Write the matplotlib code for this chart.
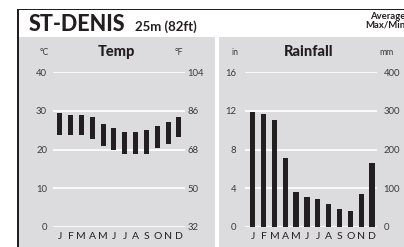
import matplotlib.pyplot as plt
from matplotlib.patches import Rectangle

plt.rcParams['font.family'] = ['Lato', 'DejaVu Sans']

months = ['J', 'F', 'M', 'A', 'M', 'J', 'J', 'A', 'S', 'O', 'N', 'D']
temp_max = [29.4, 28.9, 28.9, 28.4, 26.6, 25.5, 24.5, 24.5, 25.0, 26.0, 27.1, 28.4]
temp_min = [23.8, 23.8, 23.8, 22.8, 20.9, 19.8, 18.8, 18.8, 18.8, 20.3, 21.4, 23.2]
rain_mm = [298, 293, 277, 179, 91, 76, 71, 58, 45, 40, 86, 164]
temp_ticks_c = [0, 10, 20, 30, 40]
temp_ticks_f = [32, 50, 68, 86, 104]
rain_ticks_in = [0, 4, 8, 12, 16]
rain_ticks_mm = [0, 100, 200, 300, 400]

W, H = 404, 247
GREY = '#dcdcde'
INK = '#231f20'
LBL = '#3a3a3a'

fig = plt.figure(figsize=(W / 100, H / 100), dpi=100)

# background / frame in pixel coords
bg = fig.add_axes([0, 0, 1, 1])
bg.set_xlim(0, W)
bg.set_ylim(H, 0)
bg.axis('off')
bg.add_patch(Rectangle((17.3, 9.3), W, H, color=INK, lw=0))
bg.add_patch(Rectangle((19, 10.3), W, H, color='white', lw=0))
bg.add_patch(Rectangle((19, 37.3), 196, H, color=GREY, lw=0))
bg.add_patch(Rectangle((219, 37.3), W, H, color=GREY, lw=0))

bg.text(29, 31.3, 'ST-DENIS', fontsize=15.5, fontweight='black', color=INK, va='baseline')
bg.text(135, 31.3, '25m (82ft)', fontsize=9.5, fontweight='bold', color=INK, va='baseline')
bg.text(405, 16.5, 'Average', fontsize=6.8, fontweight='bold', color=INK, ha='right', va='center')
bg.text(405, 25.5, 'Max/Min', fontsize=6.8, fontweight='bold', color=INK, ha='right', va='center')

bg.text(116, 51.5, 'Temp', fontsize=10.5, fontweight='black', color=INK, ha='center', va='center')
bg.text(44, 52, '°C', fontsize=6.2, color=LBL, ha='center', va='center')
bg.text(178.5, 52, '°F', fontsize=6.2, color=LBL, ha='center', va='center')
bg.text(309, 51.5, 'Rainfall', fontsize=10.5, fontweight='black', color=INK, ha='center', va='center')
bg.text(235, 52, 'in', fontsize=6.2, color=LBL, ha='center', va='center')
bg.text(387, 52, 'mm', fontsize=6.2, color=LBL, ha='center', va='center')


def panel(x0, x1, xlim):
    y_top, y_bot = 72.3, 226.8
    ax = fig.add_axes([x0 / W, (H - y_bot) / H, (x1 - x0) / W, (y_bot - y_top) / H])
    ax.set_facecolor('none')
    ax.set_xlim(*xlim)
    for s in ax.spines.values():
        s.set_visible(False)
    ax.set_xticks(range(12))
    ax.set_xticklabels(months, fontsize=7.5, color=INK)
    ax.tick_params(axis='x', length=0, pad=4)
    return ax


x = list(range(12))

# Temp panel
ax1 = panel(53.3, 185.5, (-0.58, 11.6))
ax1.set_ylim(0, 40)
ax1.set_yticks(temp_ticks_c)
ax1.grid(axis='y', color='white', lw=1.2)
ax1.set_axisbelow(True)
ax1.tick_params(axis='y', length=0, pad=4.5, labelsize=6.8, labelcolor=LBL)
ax1.bar(x, [a - b for a, b in zip(temp_max, temp_min)], bottom=temp_min, width=0.46, color=INK)
ax1r = ax1.twinx()
ax1r.set_ylim(32, 104)
ax1r.set_yticks(temp_ticks_f)
ax1r.tick_params(axis='y', length=0, pad=1.5, labelsize=6.8, labelcolor=LBL)
for s in ax1r.spines.values():
    s.set_visible(False)

# Rainfall panel
ax2 = panel(245.3, 377.3, (-0.68, 11.48))
ax2.set_ylim(0, 400)
ax2.set_yticks([v * 25 for v in rain_ticks_in])
ax2.set_yticklabels(rain_ticks_in)
ax2.grid(axis='y', color='white', lw=1.2)
ax2.set_axisbelow(True)
ax2.tick_params(axis='y', length=0, pad=6.5, labelsize=6.8, labelcolor=LBL)
ax2.bar(x, rain_mm, width=0.48, color=INK)
ax2r = ax2.twinx()
ax2r.set_ylim(0, 400)
ax2r.set_yticks(rain_ticks_mm)
ax2r.tick_params(axis='y', length=0, pad=4.5, labelsize=6.8, labelcolor=LBL)
for s in ax2r.spines.values():
    s.set_visible(False)

fig.savefig('out.png', dpi=100)
